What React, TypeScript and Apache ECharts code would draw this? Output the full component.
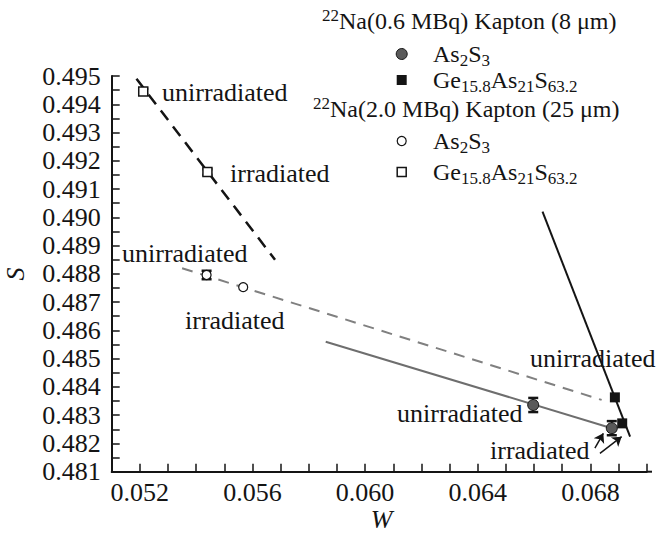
import React, { useEffect, useRef } from "react";
import * as echarts from "echarts";

const FONT = "'Liberation Serif', 'Times New Roman', serif";
const INK = "#141414";

// axes
const xMin = 0.051;
const xMax = 0.07;
const xStep = 0.001;
const xLabeled = [0.052, 0.056, 0.06, 0.064, 0.068];
const yMin = 0.481;
const yMax = 0.495;
const yStep = 0.0005;

// 22Na (0.6 MBq), Kapton 8 µm — filled symbols: [W, S, error]
const as2s3Low = [
  [0.06597, 0.48336, 0.00025],
  [0.06876, 0.48254, 0.00025],
];
const geLow = [
  [0.06887, 0.48363, 0],
  [0.06913, 0.48271, 0],
];
// 22Na (2.0 MBq), Kapton 25 µm — open symbols: [W, S, error]
const as2s3High = [
  [0.05437, 0.48796, 0.00015],
  [0.05567, 0.48753, 0],
];
const geHigh = [
  [0.05212, 0.49445, 0.0001],
  [0.0544, 0.4916, 0.0001],
];

// fitted lines (end points)
const fitGeLow = [
  [0.0663, 0.4902],
  [0.06941, 0.48224],
];
const fitAsLow = [
  [0.0586, 0.4856],
  [0.06876, 0.48254],
];
const fitGeHigh = [
  [0.05188, 0.4949],
  [0.0568, 0.4885],
];
const fitAsHigh = [
  [0.0535, 0.4882],
  [0.0684, 0.48354],
];

// arrows pointing to irradiated 0.6 MBq points
const arrowLines = [
  [
    [0.06816, 0.48183],
    [0.06846, 0.48236],
  ],
  [
    [0.06834, 0.48165],
    [0.06911, 0.48224],
  ],
];

const near = (a: number, b: number) => Math.abs(a - b) < 1e-7;

function errSeries(data: number[][]) {
  return {
    type: "custom",
    silent: true,
    z: 3,
    dimensions: ["x", "y", "e"],
    encode: { x: 0, y: 1 },
    data,
    renderItem: (_p: any, api: any) => {
      const x = api.value(0);
      const y = api.value(1);
      const e = api.value(2);
      if (!e) return { type: "group", children: [] };
      const t = api.coord([x, y + e]);
      const b = api.coord([x, y - e]);
      const hw = 5;
      const st = { stroke: INK, lineWidth: 1.5 };
      return {
        type: "group",
        children: [
          { type: "line", shape: { x1: t[0], y1: t[1], x2: b[0], y2: b[1] }, style: st },
          { type: "line", shape: { x1: t[0] - hw, y1: t[1], x2: t[0] + hw, y2: t[1] }, style: { stroke: INK, lineWidth: 2.5 } },
          { type: "line", shape: { x1: b[0] - hw, y1: b[1], x2: b[0] + hw, y2: b[1] }, style: { stroke: INK, lineWidth: 2.5 } },
        ],
      };
    },
  };
}

const pts = (d: number[][]) => d.map((p) => [p[0], p[1]]);

const rich = {
  n: { fontFamily: FONT, fontSize: 24, lineHeight: 26, color: INK },
  sub: { fontFamily: FONT, fontSize: 17, lineHeight: 10, verticalAlign: "middle", padding: [12, 0, 0, 0], color: INK },
  sup: { fontFamily: FONT, fontSize: 17, lineHeight: 10, verticalAlign: "middle", padding: [0, 0, 12, 0], color: INK },
};

function txt(text: string, x: number, y: number, extra: any = {}) {
  return {
    type: "text",
    x,
    y,
    silent: true,
    style: {
      text,
      fontFamily: FONT,
      fontSize: 26,
      fill: INK,
      textAlign: "left",
      textVerticalAlign: "middle",
      align: "left",
      verticalAlign: "middle",
      ...extra,
    },
  };
}

function richTxt(text: string, x: number, y: number) {
  return {
    type: "text",
    x,
    y,
    silent: true,
    style: {
      text,
      rich,
      fill: INK,
      textAlign: "left",
      textVerticalAlign: "middle",
      align: "left",
      verticalAlign: "middle",
    },
  };
}

export default function App() {
  const ref = useRef<HTMLDivElement>(null);
  useEffect(() => {
    if (!ref.current) return;
    const chart = echarts.init(ref.current, undefined, { renderer: "svg" });
    const option: any = {
      animation: false,
      backgroundColor: "#ffffff",
      grid: { left: 111.7, right: 23.3, top: 76, bottom: 64.3, containLabel: false },
      xAxis: {
        type: "value",
        min: xMin,
        max: xMax,
        interval: xStep,
        splitLine: { show: false },
        axisLine: { show: true, lineStyle: { color: INK, width: 2 } },
        axisTick: { show: true, inside: true, length: 8, lineStyle: { color: INK, width: 1.5 } },
        axisLabel: {
          margin: 8,
          fontFamily: FONT,
          fontSize: 26,
          color: INK,
          formatter: (v: number) => (xLabeled.some((l) => near(l, v)) ? v.toFixed(3) : ""),
        },
      },
      yAxis: {
        type: "value",
        min: yMin,
        max: yMax,
        interval: yStep,
        splitLine: { show: false },
        axisLine: { show: true, lineStyle: { color: INK, width: 2 } },
        axisTick: { show: true, inside: true, length: 8, lineStyle: { color: INK, width: 1.5 } },
        axisLabel: {
          margin: 11,
          fontFamily: FONT,
          fontSize: 26,
          color: INK,
          formatter: (v: number) =>
            Math.abs(v * 1000 - Math.round(v * 1000)) < 1e-6 ? v.toFixed(3) : "",
        },
      },
      series: [
        { type: "line", data: fitGeLow, symbol: "none", z: 2, lineStyle: { color: INK, width: 2 } },
        { type: "line", data: fitAsLow, symbol: "none", z: 2, lineStyle: { color: "#6e6e6e", width: 2 } },
        { type: "line", data: fitGeHigh, symbol: "none", z: 2, lineStyle: { color: INK, width: 2.5, type: [12, 8] } },
        { type: "line", data: fitAsHigh, symbol: "none", z: 2, lineStyle: { color: "#808080", width: 2, type: [11, 8] } },
        {
          type: "lines",
          coordinateSystem: "cartesian2d",
          silent: true,
          z: 4,
          symbol: ["none", "arrow"],
          symbolSize: 9,
          lineStyle: { color: INK, width: 1.5, opacity: 1 },
          data: arrowLines.map((c) => ({ coords: c })),
        },
        errSeries(as2s3Low),
        errSeries(as2s3High),
        errSeries(geHigh),
        {
          type: "scatter",
          name: "As2S3 0.6",
          data: pts(as2s3Low),
          symbol: "circle",
          symbolSize: 11,
          z: 5,
          itemStyle: { color: "#5a5a5a", borderColor: INK, borderWidth: 1, opacity: 1 },
        },
        {
          type: "scatter",
          name: "Ge 0.6",
          data: pts(geLow),
          symbol: "rect",
          symbolSize: 10,
          z: 5,
          itemStyle: { color: INK, opacity: 1 },
        },
        {
          type: "scatter",
          name: "As2S3 2.0",
          data: pts(as2s3High),
          symbol: "circle",
          symbolSize: 9,
          z: 5,
          itemStyle: { color: "#ffffff", borderColor: INK, borderWidth: 1.2, opacity: 1 },
        },
        {
          type: "scatter",
          name: "Ge 2.0",
          data: pts(geHigh),
          symbol: "rect",
          symbolSize: 9,
          z: 5,
          itemStyle: { color: "#ffffff", borderColor: INK, borderWidth: 1.5, opacity: 1 },
        },
      ],
      graphic: [
        { type: "line", silent: true, shape: { x1: 646.7, y1: 471.7, x2: 652, y2: 471.7 }, style: { stroke: INK, lineWidth: 2 } },
        txt("W", 381.7, 519, { fontStyle: "italic", textAlign: "center", align: "center" }),
        { ...txt("S", 15, 274, { fontStyle: "italic", textAlign: "center", align: "center" }), rotation: Math.PI / 2 },
        txt("unirradiated", 162, 92),
        txt("irradiated", 230, 173),
        txt("unirradiated", 122, 253),
        txt("irradiated", 185, 320),
        txt("unirradiated", 530, 358),
        txt("unirradiated", 397, 413),
        txt("irradiated", 490, 450),
        richTxt("{sup|22}{n|Na(0.6 MBq) Kapton (8 μm)}", 322, 21),
        { type: "circle", silent: true, shape: { cx: 401.7, cy: 54, r: 5.5 }, style: { fill: "#5a5a5a", stroke: INK, lineWidth: 1 } },
        richTxt("{n|As}{sub|2}{n|S}{sub|3}", 433, 54),
        { type: "rect", silent: true, shape: { x: 396.7, y: 75, width: 10, height: 10 }, style: { fill: INK } },
        richTxt("{n|Ge}{sub|15.8}{n|As}{sub|21}{n|S}{sub|63.2}", 433, 80),
        richTxt("{sup|22}{n|Na(2.0 MBq) Kapton (25 μm)}", 313, 109),
        { type: "circle", silent: true, shape: { cx: 401.7, cy: 141, r: 4.5 }, style: { fill: "#fff", stroke: INK, lineWidth: 1.2 } },
        richTxt("{n|As}{sub|2}{n|S}{sub|3}", 433, 141),
        { type: "rect", silent: true, shape: { x: 397.2, y: 167.5, width: 9, height: 9 }, style: { fill: "#fff", stroke: INK, lineWidth: 1.5 } },
        richTxt("{n|Ge}{sub|15.8}{n|As}{sub|21}{n|S}{sub|63.2}", 433, 172),
      ],
    };
    chart.setOption(option);
    return () => chart.dispose();
  }, []);
  return (
    <div
      ref={ref}
      style={{ position: "absolute", left: 0, top: 0, width: 670, height: 536, background: "#fff" }}
    />
  );
}
